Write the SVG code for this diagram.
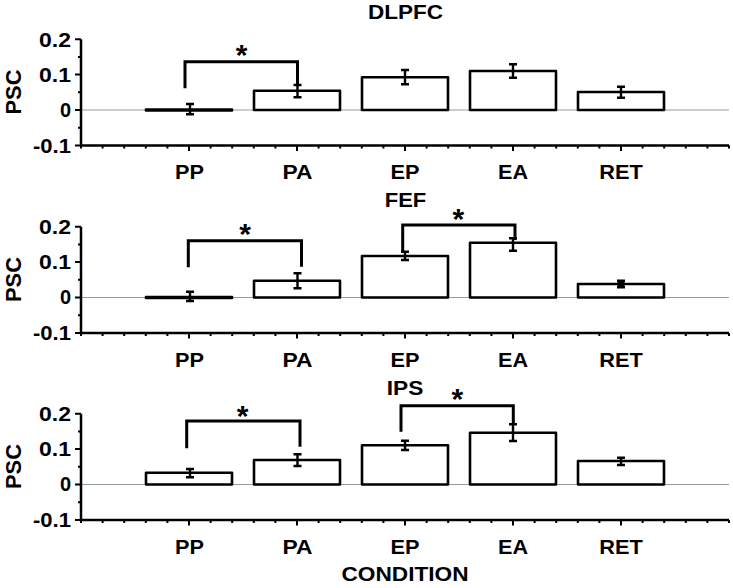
<svg xmlns="http://www.w3.org/2000/svg" xmlns:xlink="http://www.w3.org/1999/xlink" width="733" height="588" viewBox="0 0 733 588">
<style>
text{font-family:"Liberation Sans",Arial,Helvetica,sans-serif;font-weight:bold;fill:#000}
.tk{font-size:20px;text-anchor:end}
.cat{font-size:20px;text-anchor:middle}
.ttl{font-size:19.5px;text-anchor:middle}
.ast{font-size:30px;text-anchor:middle}
.ax{stroke:#000;stroke-width:2.5;fill:none}
.tick{stroke:#000;stroke-width:2;fill:none}
.zero{stroke:#999;stroke-width:1;fill:none}
.bar{fill:#fff;stroke:#000;stroke-width:2.6;stroke-linejoin:round}
.err{stroke:#000;stroke-width:2.4;fill:none}
.brk{stroke:#000;stroke-width:3;fill:none;stroke-linejoin:miter}
</style>
<defs>
<g id="axes">
<line class="zero" x1="81" y1="110" x2="729" y2="110"/>
<path class="ax" d="M81,39.2V145.5H729"/>
<path class="tick" d="M75,39.2H81M75,74.6H81M75,110H81M75,145.4H81M78,56.9H81M78,92.3H81M78,127.7H81"/>
<path class="tick" d="M189,145.5v5.5M297,145.5v5.5M405,145.5v5.5M513,145.5v5.5M621,145.5v5.5"/>
<path class="tick" d="M81,145.5v3M102.6,145.5v3M124.2,145.5v3M145.8,145.5v3M167.4,145.5v3M210.6,145.5v3M232.2,145.5v3M253.8,145.5v3M275.4,145.5v3M318.6,145.5v3M340.2,145.5v3M361.8,145.5v3M383.4,145.5v3M426.6,145.5v3M448.2,145.5v3M469.8,145.5v3M491.4,145.5v3M534.6,145.5v3M556.2,145.5v3M577.8,145.5v3M599.4,145.5v3M642.6,145.5v3M664.2,145.5v3M685.8,145.5v3M707.4,145.5v3M729,145.5v3"/>
<text class="tk" x="71" y="46.5" textLength="32" lengthAdjust="spacingAndGlyphs">0.2</text>
<text class="tk" x="71" y="81.7" textLength="32" lengthAdjust="spacingAndGlyphs">0.1</text>
<text class="tk" x="71" y="116.8">0</text>
<text class="tk" x="71" y="152.5" textLength="38" lengthAdjust="spacingAndGlyphs">-0.1</text>
<text x="20.5" y="92" transform="rotate(-90 20.5 92)" style="font-size:22px;text-anchor:middle" textLength="45" lengthAdjust="spacingAndGlyphs">PSC</text>
<text class="cat" x="189.5" y="179.3" textLength="29" lengthAdjust="spacingAndGlyphs">PP</text>
<text class="cat" x="297.5" y="179.3" textLength="30" lengthAdjust="spacingAndGlyphs">PA</text>
<text class="cat" x="405" y="179.3" textLength="29" lengthAdjust="spacingAndGlyphs">EP</text>
<text class="cat" x="513" y="179.3" textLength="30" lengthAdjust="spacingAndGlyphs">EA</text>
<text class="cat" x="621" y="179.3" textLength="43.5" lengthAdjust="spacingAndGlyphs">RET</text>
</g>
</defs>

<g id="panel-dlpfc">
<use xlink:href="#axes" href="#axes"/>
<text class="ttl" x="405.5" y="18.5" textLength="75" lengthAdjust="spacingAndGlyphs">DLPFC</text>
<g id="bars-dlpfc">
<rect class="bar" x="146" y="109.6" width="86" height="0.8"/>
<rect class="bar" x="254" y="90.7" width="86" height="19.3"/>
<rect class="bar" x="362" y="77.3" width="86" height="32.7"/>
<rect class="bar" x="470" y="71" width="86" height="39"/>
<rect class="bar" x="578" y="92" width="86" height="18"/>
<path class="err" d="M190,104V114.3M186,104h8M186,114.3h8M297.5,85V97.3M293.5,85h8M293.5,97.3h8M405,70V84.3M401,70h8M401,84.3h8M513,64.3V77.7M509,64.3h8M509,77.7h8M621,86.7V97.7M617,86.7h8M617,97.7h8"/>
</g>
<g id="sig-dlpfc">
<path class="brk" d="M185,88.3V61.7H297.5V85"/>
<text class="ast" x="241.5" y="64.8">*</text>
</g>
</g>

<g id="panel-fef" transform="translate(0,187.5)">
<use xlink:href="#axes" href="#axes"/>
<text class="ttl" x="405.5" y="19.2" textLength="41.5" lengthAdjust="spacingAndGlyphs">FEF</text>
<g id="bars-fef">
<rect class="bar" x="146" y="109.6" width="86" height="0.8"/>
<rect class="bar" x="254" y="93.2" width="86" height="16.8"/>
<rect class="bar" x="362" y="68.5" width="86" height="41.5"/>
<rect class="bar" x="470" y="55.2" width="86" height="54.8"/>
<rect class="bar" x="578" y="96.5" width="86" height="13.5"/>
<path class="err" d="M190,104.2V113.5M186,104.2h8M186,113.5h8M297.5,85.8V100.8M293.5,85.8h8M293.5,100.8h8M405,64.2V72.5M401,64.2h8M401,72.5h8M513,50.8V63.2M509,50.8h8M509,63.2h8M621,93.2V99.8M617,93.2h8M617,99.8h8"/>
<rect x="617.5" y="93.5" width="7" height="6" fill="#000"/>
</g>
<g id="sig-fef">
<path class="brk" d="M188.3,79.8V53.2H301.5V79.2"/>
<text class="ast" x="245" y="56.7">*</text>
<path class="brk" d="M402.7,64.2V37.5H515V52.5"/>
<text class="ast" x="458.3" y="41.2">*</text>
</g>
</g>

<g id="panel-ips" transform="translate(0,374.5)">
<use xlink:href="#axes" href="#axes"/>
<text class="ttl" x="405" y="20.5" textLength="36.6" lengthAdjust="spacingAndGlyphs">IPS</text>
<g id="bars-ips">
<rect class="bar" x="146" y="98.2" width="86" height="11.8"/>
<rect class="bar" x="254" y="85.5" width="86" height="24.5"/>
<rect class="bar" x="362" y="70.8" width="86" height="39.2"/>
<rect class="bar" x="470" y="58.2" width="86" height="51.8"/>
<rect class="bar" x="578" y="86.5" width="86" height="23.5"/>
<path class="err" d="M190,94.5V102.8M186,94.5h8M186,102.8h8M297.5,79.8V91.5M293.5,79.8h8M293.5,91.5h8M405,66.2V75.5M401,66.2h8M401,75.5h8M513,49.8V66.5M509,49.8h8M509,66.5h8M621,83.2V90.5M617,83.2h8M617,90.5h8"/>
</g>
<g id="sig-ips">
<path class="brk" d="M186.7,73.8V46.5H300V72.2"/>
<text class="ast" x="242.7" y="51.3">*</text>
<path class="brk" d="M401,57.2V31.2H513.3V49.8"/>
<text class="ast" x="457.3" y="34.7">*</text>
</g>
<text x="405" y="206" style="font-size:21px;text-anchor:middle" textLength="127" lengthAdjust="spacingAndGlyphs">CONDITION</text>
</g>
</svg>
